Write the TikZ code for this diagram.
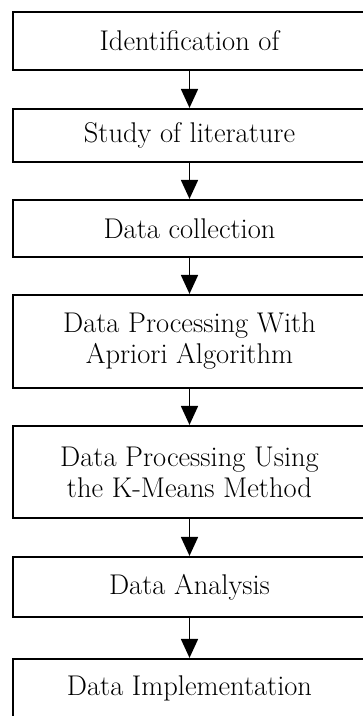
\documentclass[tikz,border=0pt]{standalone}
\usepackage{tikz}
\usetikzlibrary{arrows.meta,positioning,shapes}

\begin{document}
\begin{tikzpicture}[x=1pt,y=-1pt,every text node part/.style={align=center},
    stage/.style={draw,line width=2.2pt,minimum width=353pt,inner sep=0pt,
      font=\fontsize{28.5}{31}\selectfont},
    flow/.style={line width=1.8pt,-{Triangle[width=17pt,length=19pt]}}]
    \useasboundingbox (0,0) rectangle (363,716);
    \clip (0,0) rectangle (363,716);

    \node[stage,minimum height=58pt] (ident) at (189.5,41) {Identification of};
    \node[stage,minimum height=53pt] (study) at (189.5,135.5) {Study of literature};
    \node[stage,minimum height=57pt] (collect) at (189.5,228.5) {Data collection};
    \node[stage,minimum height=93pt] (apriori) at (189.5,341.5) {Data Processing With\\ Apriori Algorithm};
    \node[stage,minimum height=92pt] (kmeans) at (189.5,472) {Data Processing Using\\ the K-Means Method};
    \node[stage,minimum height=60pt] (analysis) at (189.5,587) {Data Analysis};
    \node[stage,minimum height=58pt] (implement) at (189.5,688) {Data Implementation};

    \draw[flow] (ident) to (study);
    \draw[flow] (study) to (collect);
    \draw[flow] (collect) to (apriori);
    \draw[flow] (apriori) to (kmeans);
    \draw[flow] (kmeans) to (analysis);
    \draw[flow] (analysis) to (implement);
  \end{tikzpicture}
\end{document}
